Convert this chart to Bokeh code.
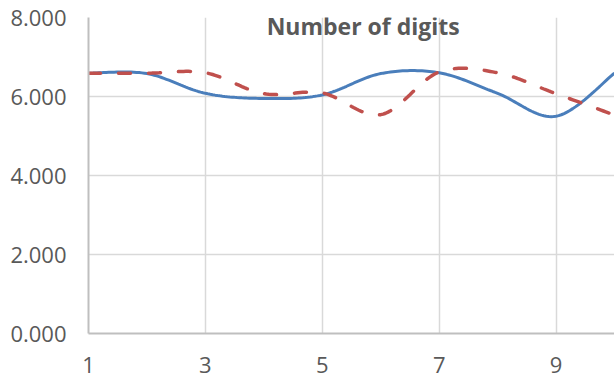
import numpy as np
from bokeh.plotting import figure
from bokeh.models import FixedTicker, Range1d, Label
from bokeh.embed import file_html
from bokeh.resources import INLINE

# Series values per position
positions = [1, 2, 3, 4, 5, 6, 7, 8, 9, 10]
digits_solid = [6.59, 6.58, 6.08, 5.95, 6.04, 6.58, 6.60, 6.08, 5.50, 6.59]
digits_dashed = [6.59, 6.59, 6.60, 6.07, 6.09, 5.54, 6.62, 6.60, 6.07, 5.53]
x_ticks = [1, 3, 5, 7, 9]
y_ticks = [0, 2, 4, 6, 8]

GREY_TEXT = "#595959"
FONT = "Open Sans"


def smooth(xs, ys, steps=24):
    """Catmull-Rom curve through the points, like a spreadsheet 'smoothed line'."""
    xs = np.asarray(xs, float)
    ys = np.asarray(ys, float)
    n = len(xs)
    px = np.concatenate([[xs[0]], xs, [xs[-1]]])
    py = np.concatenate([[ys[0]], ys, [ys[-1]]])
    out_x, out_y = [], []
    for i in range(n - 1):
        p0x, p1x, p2x, p3x = px[i], px[i + 1], px[i + 2], px[i + 3]
        p0y, p1y, p2y, p3y = py[i], py[i + 1], py[i + 2], py[i + 3]
        m1x, m2x = (p2x - p0x) / 2, (p3x - p1x) / 2
        m1y, m2y = (p2y - p0y) / 2, (p3y - p1y) / 2
        t = np.linspace(0, 1, steps, endpoint=(i == n - 2))
        h00 = 2 * t**3 - 3 * t**2 + 1
        h10 = t**3 - 2 * t**2 + t
        h01 = -2 * t**3 + 3 * t**2
        h11 = t**3 - t**2
        out_x.extend(h00 * p1x + h10 * m1x + h01 * p2x + h11 * m2x)
        out_y.extend(h00 * p1y + h10 * m1y + h01 * p2y + h11 * m2y)
    return out_x, out_y


p = figure(
    width=614, height=379,
    output_backend="svg", toolbar_location=None,
    x_range=Range1d(1, 10), y_range=Range1d(0, 8),
    min_border_left=88, min_border_right=0,
    min_border_top=17, min_border_bottom=46,
)
p.outline_line_color = None
p.background_fill_color = "white"
p.border_fill_color = "white"

# grid
p.xaxis.ticker = FixedTicker(ticks=x_ticks)
p.yaxis.ticker = FixedTicker(ticks=y_ticks)
for g in (p.xgrid, p.ygrid):
    g.grid_line_color = "#D9D9D9"
    g.grid_line_width = 1.5

# axes
for ax in (p.xaxis, p.yaxis):
    ax.axis_line_color = "#BFBFBF"
    ax.axis_line_width = 2
    ax.major_tick_line_color = None
    ax.minor_tick_line_color = None
    ax.major_label_text_font = FONT
    ax.major_label_text_font_size = "22px"
    ax.major_label_text_color = GREY_TEXT
p.xaxis.major_label_standoff = 17
p.yaxis.major_label_standoff = 16
p.yaxis.major_label_overrides = {t: f"{t:.3f}" for t in y_ticks}
p.xaxis.major_label_overrides = {t: str(t) for t in x_ticks}

sx, sy = smooth(positions, digits_solid)
p.line(sx, sy, line_color="#4A7EBB", line_width=3)

dx, dy = smooth(positions, digits_dashed)
p.line(dx, dy, line_color="#C0504D", line_width=3.5,
       line_dash="12 18", line_cap="round")

p.add_layout(Label(
    x=5.7, y=8, text="Number of digits",
    text_font=FONT, text_font_style="bold", text_font_size="23px",
    text_color=GREY_TEXT, text_align="center", text_baseline="top",
    y_offset=8,
))

open("out.html", "w").write(file_html(p, INLINE))
